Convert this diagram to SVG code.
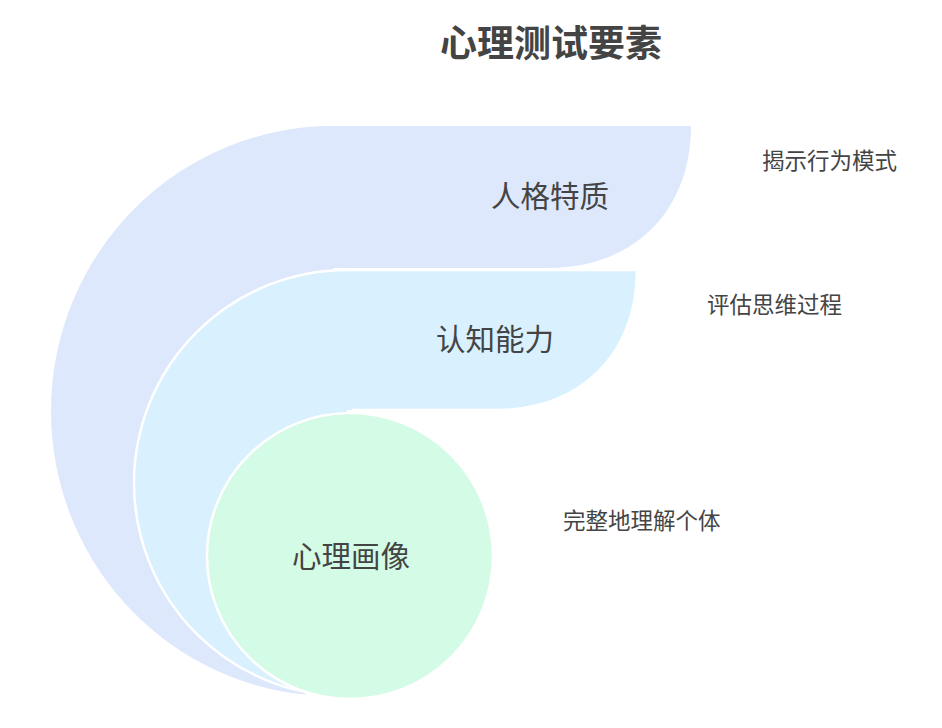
<svg xmlns="http://www.w3.org/2000/svg" width="942" height="728" viewBox="0 0 942 728">
  <style>
    .lbl { font-family: "Noto Sans CJK SC", "Noto Sans", sans-serif; fill: #444444; }
    .node { font-size: 29.5px; text-anchor: middle; }
    .desc { font-size: 22.5px; text-anchor: start; }
    .title { font-size: 37px; font-weight: bold; text-anchor: middle; }
    .outline { fill: none; stroke: #ffffff; stroke-width: 2.5; }
  </style>
  <rect width="942" height="728" fill="#ffffff"/>
  <text class="lbl title" x="551" y="57">心理测试要素</text>

  <g id="node-personality">
    <path fill="#dde8fc" d="M 333 126 L 691 126 C 691 211 634 268 548 268 L 333 268 L 333 600 L 305 694.6 A 282 285 0 0 1 51 411 A 282 285 0 0 1 333 126 Z"/>
    <text class="lbl node" x="550" y="207">人格特质</text>
    <text class="lbl desc" x="762" y="169">揭示行为模式</text>
  </g>

  <g id="node-cognition">
    <path fill="#d9f1fe" d="M 347 270 L 637 270 C 637 354 581 410 497 410 L 347 410 L 347 696 A 213 213 0 0 1 134 483 A 213 213 0 0 1 347 270 Z"/>
    <path class="outline" d="M 347 696 A 213 213 0 0 1 134 483 A 213 213 0 0 1 347 270 L 637 270 C 637 354 581 410 497 410 L 352 410"/>
    <text class="lbl node" x="495" y="350">认知能力</text>
    <text class="lbl desc" x="707" y="313">评估思维过程</text>
  </g>

  <g id="node-portrait">
    <circle fill="#d3fbe5" stroke="#ffffff" stroke-width="2.5" cx="350" cy="556" r="143"/>
    <text class="lbl node" x="351" y="567">心理画像</text>
    <text class="lbl desc" x="563" y="529">完整地理解个体</text>
  </g>
</svg>
